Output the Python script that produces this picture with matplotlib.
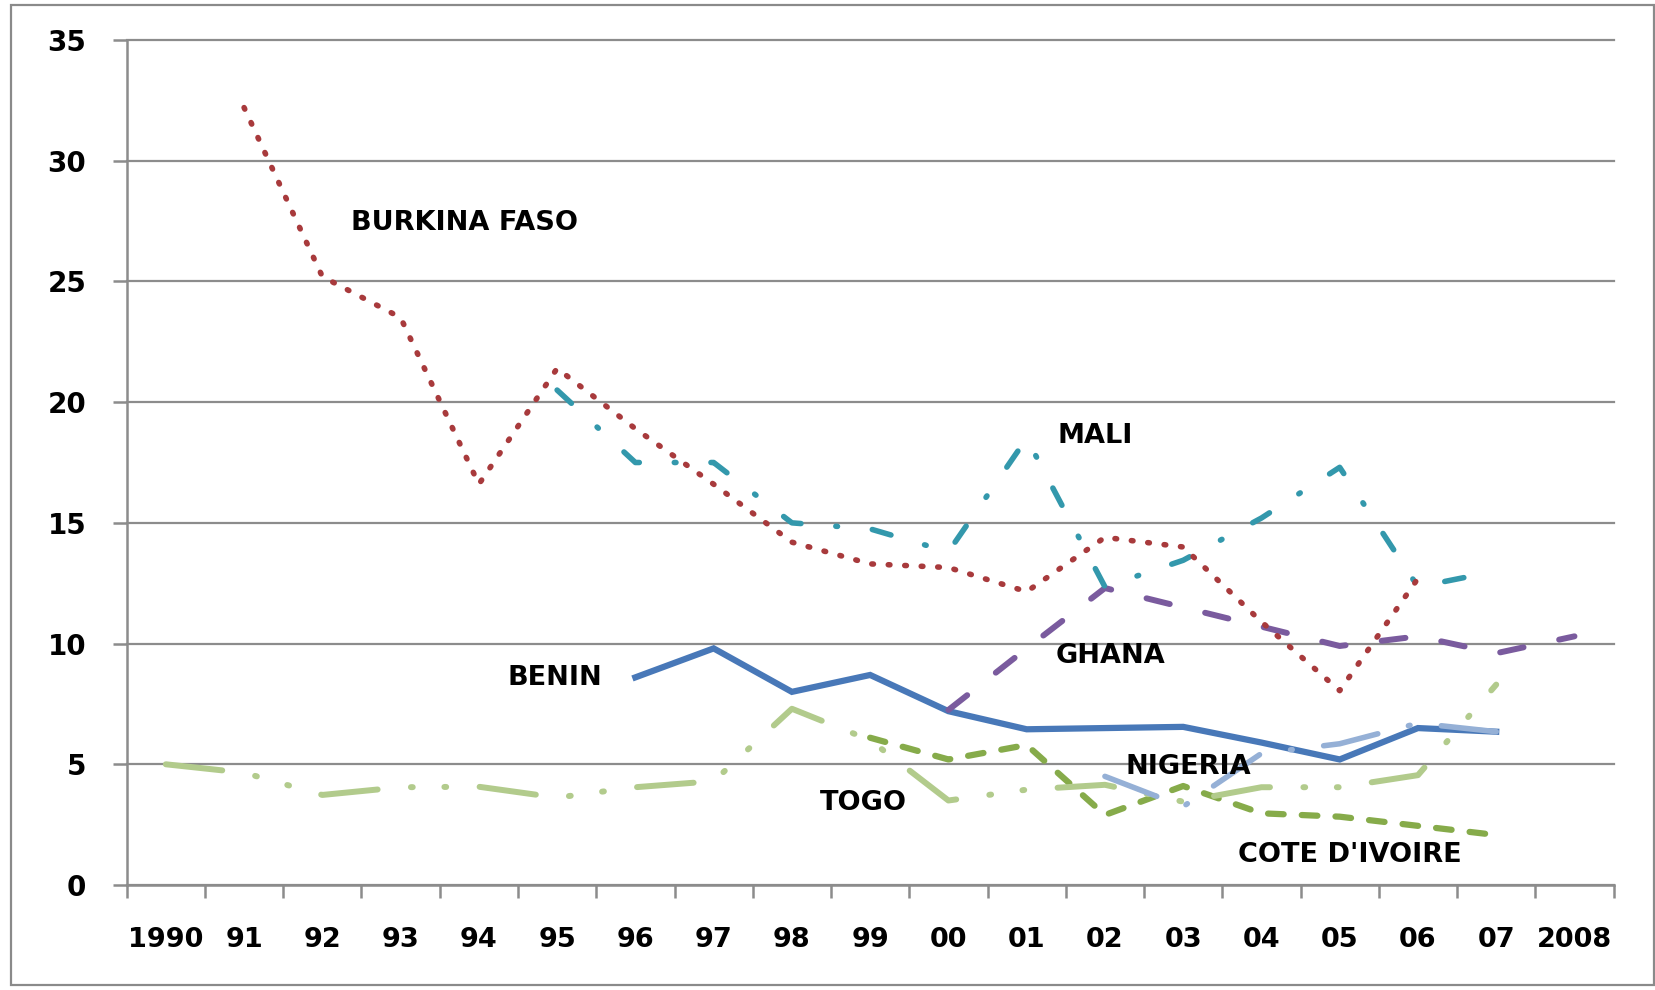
import matplotlib.pyplot as plt
from matplotlib.patches import Rectangle
import numpy as np

nan = np.nan

years = ["1990", "91", "92", "93", "94", "95", "96", "97", "98", "99",
         "00", "01", "02", "03", "04", "05", "06", "07", "2008"]

burkina = [nan, 32.2, 25.2, 23.5, 16.6, 21.4, 18.9, 16.6, 14.2, 13.3,
           13.15, 12.15, 14.4, 14.0, 10.9, 8.05, 12.7, nan, nan]
mali = [nan, nan, nan, nan, nan, 20.5, 17.5, 17.5, 15.0, 14.75,
        13.8, 18.5, 12.35, 13.45, 15.2, 17.3, 12.35, 13.0, nan]
ghana = [nan, nan, nan, nan, nan, nan, nan, nan, nan, nan,
         7.25, 9.8, 12.3, 11.5, 10.7, 9.9, 10.3, 9.6, 10.3]
benin = [nan, nan, nan, nan, nan, nan, 8.6, 9.8, 8.0, 8.7,
         7.2, 6.45, 6.5, 6.55, 5.9, 5.2, 6.5, 6.35, nan]
nigeria = [nan, nan, nan, nan, nan, nan, nan, nan, nan, nan,
           nan, nan, 4.5, 3.25, 5.45, 5.85, 6.7, 6.35, nan]
togo = [5.0, 4.65, 3.73, 4.05, 4.07, 3.62, 4.05, 4.3, 7.3, 6.0,
        3.5, 3.95, 4.15, 3.45, 4.05, 4.05, 4.55, 8.3, nan]
cote_divoire = [nan, nan, nan, nan, nan, nan, nan, nan, nan, 6.1,
                5.2, 5.8, 2.9, 4.1, 2.97, 2.83, 2.45, 2.07, nan]

# label text, x (category index), y (value)
labels = [
    ("BURKINA FASO", 2.37, 27.4),
    ("MALI", 11.40, 18.6),
    ("GHANA", 11.37, 9.49),
    ("BENIN", 4.36, 8.57),
    ("NIGERIA", 12.26, 4.9),
    ("TOGO", 8.36, 3.41),
    ("COTE D'IVOIRE", 13.70, 1.23),
]

W, H = 1656, 990
fig = plt.figure(figsize=(W / 100, H / 100), dpi=100)
fig.patch.set_facecolor("white")
fig.patches.append(Rectangle((11 / W, 5 / H), (1654 - 11) / W, (985 - 5) / H,
                             transform=fig.transFigure, fill=False,
                             ec="#8a8a8a", lw=1.6))

ax = fig.add_axes([126.7 / W, 1 - 885 / H, (1613.6 - 126.7) / W, 845 / H])
x = np.arange(len(years))

ax.plot(x, cote_divoire, color="#86AB4A", lw=4.5,
        linestyle=(0, (2.5, 2.9)), dash_capstyle="round", zorder=3)
ax.plot(x, togo, color="#B2CB8C", lw=4.3,
        linestyle=(0, (9.5, 5.6, 0.3, 5.3, 0.3, 5.6)),
        dash_capstyle="round", zorder=3)
ax.plot(x, benin, color="#4878B8", lw=4.5, solid_joinstyle="miter", zorder=4)
ax.plot(x, nigeria, color="#95B0D6", lw=4.0,
        linestyle=(0, (10.0, 5.7, 0.3, 5.7)), dash_capstyle="round", zorder=5)
ax.plot(x, ghana, color="#7A5B9E", lw=4.3,
        linestyle=(0, (4.0, 6.1)), dash_capstyle="round", zorder=5)
ax.plot(x, mali, color="#3398AC", lw=4.0,
        linestyle=(0, (3.5, 6.3, 0.3, 6.3)), dash_capstyle="round", zorder=6)
ax.plot(x, burkina, color="#A83A3C", lw=4.0,
        linestyle=(0, (0.3, 2.67)), dash_capstyle="round", zorder=7)

for txt, lx, ly in labels:
    ax.text(lx, ly, txt, ha="left", va="center", fontsize=19.5,
            fontweight="bold", color="black", zorder=8)

ax.set_xlim(-0.5, len(years) - 0.5)
ax.set_ylim(0, 35)
ax.set_yticks(np.arange(0, 36, 5))
ax.set_xticks(np.arange(-0.5, len(years), 1))
ax.set_xticklabels([])
ax.set_xticks(x, minor=True)
ax.set_xticklabels(years, minor=True)

grid_c = "#8c8c8c"
ax.yaxis.grid(True, color=grid_c, lw=1.6)
for gl in ax.get_ygridlines():
    gl.set_clip_on(False)
ax.set_axisbelow(True)
for s in ["top", "right"]:
    ax.spines[s].set_visible(False)
for s in ["left", "bottom"]:
    ax.spines[s].set_color(grid_c)
    ax.spines[s].set_linewidth(1.8)

ax.tick_params(axis="y", which="major", direction="out", length=10, width=1.8,
               color=grid_c, pad=19, labelsize=20)
ax.tick_params(axis="x", which="major", direction="out", length=9, width=1.8,
               color=grid_c)
ax.tick_params(axis="x", which="minor", length=0, pad=30, labelsize=19.5)
for lab in ax.get_yticklabels() + ax.get_xticklabels(minor=True):
    lab.set_fontweight("bold")

fig.savefig("out.png", dpi=100)
